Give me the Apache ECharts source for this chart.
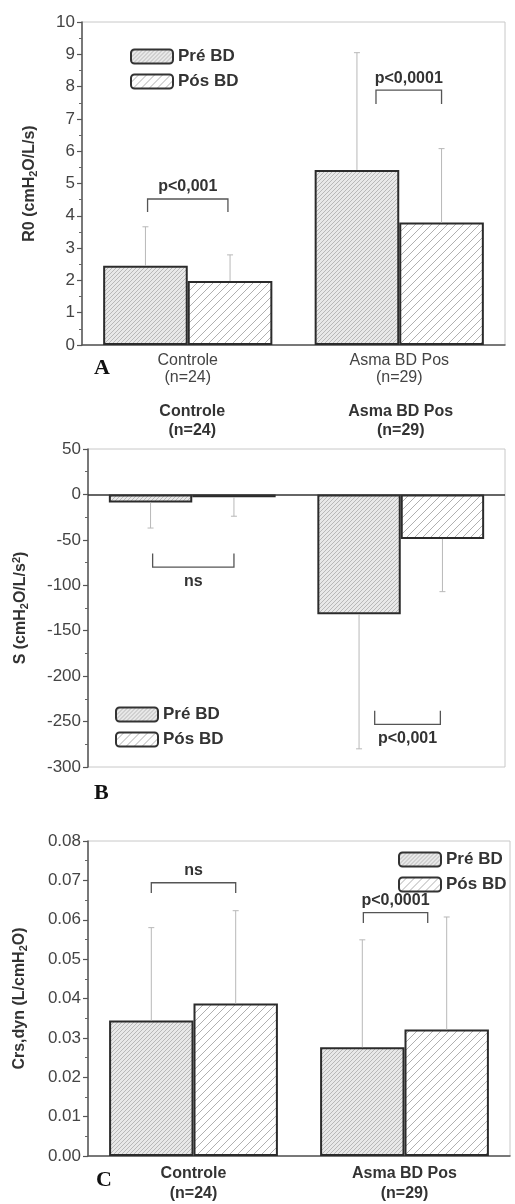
<!DOCTYPE html>
<html>
<head>
<meta charset="utf-8">
<script src="https://cdn.jsdelivr.net/npm/echarts@6/dist/echarts.min.js"></script>
<style>
html,body{margin:0;padding:0;background:#fff;}
#c{width:515px;height:1204px;}
</style>
</head>
<body>
<div id="c"></div>
<script>
// ---- data ----
const categories = ['Controle', 'Asma BD Pos'];
const groupN = [24, 29];
const seriesNames = ['Pré BD', 'Pós BD'];

const r0Pre = [2.45, 5.42];
const r0PreSD = [1.21, 3.63];
const r0Pos = [1.98, 3.79];
const r0PosSD = [0.81, 2.29];

const sPre = [-9, -132];
const sPreSD = [28, 148];
const sPos = [-3, -49];
const sPosSD = [21, 58];

const crsPre = [0.0344, 0.0276];
const crsPreSD = [0.0236, 0.0273];
const crsPos = [0.0387, 0.0321];
const crsPosSD = [0.0236, 0.0286];

// axis ranges [min, max, interval]
const r0Axis = [0, 10, 1];
const sAxis = [-300, 50, 50];
const crsAxis = [0, 0.08, 0.01];

// significance brackets (category index, bracket level, end level, x offsets in band units, text)
const bracketsA = [
  {cat: 0, y: 4.52, yEnd: 4.12, x0: -0.19, x1: 0.19, text: 'p<0,001', below: false},
  {cat: 1, y: 7.89, yEnd: 7.46, x0: -0.11, x1: 0.20, text: 'p<0,0001', below: false}
];
const bracketsB = [
  {cat: 0, y: -80, yEnd: -65, x0: -0.19, x1: 0.20, text: 'ns', below: true},
  {cat: 1, y: -253, yEnd: -238, x0: -0.125, x1: 0.19, text: 'p<0,001', below: true}
];
const bracketsC = [
  {cat: 0, y: 0.0694, yEnd: 0.0668, x0: -0.20, x1: 0.20, text: 'ns', below: false},
  {cat: 1, y: 0.0618, yEnd: 0.0592, x0: -0.195, x1: 0.11, text: 'p<0,0001', below: false}
];

// ---- patterns ----
function hatch(bg, fg, size, lw) {
  const c = document.createElement('canvas');
  c.width = size; c.height = size;
  const g = c.getContext('2d');
  g.fillStyle = bg; g.fillRect(0, 0, size, size);
  g.strokeStyle = fg; g.lineWidth = lw;
  g.beginPath();
  for (let k = -1; k <= 1; k++) {
    g.moveTo(k * size, size);
    g.lineTo(k * size + size, 0);
  }
  g.stroke();
  return {image: c, repeat: 'repeat'};
}
const prePattern = hatch('#e8e8e8', '#b8b8b8', 4, 1);
const posPattern = hatch('#ffffff', '#b0b0b0', 8, 1);

const FONT = 'Liberation Sans';
const BAR_BORDER = '#2b2b2b';

function errData(pre, preSD, pos, posSD) {
  const out = [];
  for (let i = 0; i < categories.length; i++) {
    out.push([i, pre[i], preSD[i], -1]);
    out.push([i, pos[i], posSD[i], 1]);
  }
  return out;
}
function errRender(params, api) {
  const cat = api.value(0), v = api.value(1), sd = api.value(2), side = api.value(3);
  const band = api.size([1, 0])[0];
  const p0 = api.coord([cat, v]);
  const p1 = api.coord([cat, v + (v < 0 ? -sd : sd)]);
  const x = p0[0] + side * band * 0.2;
  const st = {stroke: '#b8b8b8', lineWidth: 1};
  return {type: 'group', children: [
    {type: 'line', shape: {x1: x, y1: p0[1], x2: x, y2: p1[1]}, style: st},
    {type: 'line', shape: {x1: x - 3, y1: p1[1], x2: x + 3, y2: p1[1]}, style: st}
  ]};
}
function bracketRender(list) {
  return function (params, api) {
    const b = list[params.dataIndex];
    const band = api.size([1, 0])[0];
    const c = api.coord([b.cat, b.y]);
    const e = api.coord([b.cat, b.yEnd]);
    const x0 = c[0] + b.x0 * band, x1 = c[0] + b.x1 * band;
    return {type: 'group', children: [
      {type: 'polyline', shape: {points: [[x0, e[1]], [x0, c[1]], [x1, c[1]], [x1, e[1]]]},
        style: {stroke: '#555', lineWidth: 1.3, fill: null}},
      {type: 'text', style: {text: b.text, x: (x0 + x1) / 2, y: b.below ? c[1] + 6 : c[1] - 4,
        align: 'center', verticalAlign: b.below ? 'top' : 'bottom',
        font: 'bold 16px ' + FONT, fill: '#333'}}
    ]};
  };
}

function yAxisCfg(grid, range, name, gap, fmt) {
  return {
    gridIndex: grid, type: 'value', min: range[0], max: range[1], interval: range[2],
    axisLine: {show: true, lineStyle: {color: '#555', width: 1.5}},
    axisTick: {show: true, length: 5, lineStyle: {color: '#555', width: 1.2}},
    minorTick: {show: true, splitNumber: 2, length: 3, lineStyle: {color: '#666', width: 1}},
    splitLine: {show: false},
    axisLabel: {fontSize: 17, color: '#444', fontFamily: FONT, margin: 7, formatter: fmt},
    name: name, nameLocation: 'middle', nameRotate: 90, nameGap: gap,
    nameTextStyle: {
      fontFamily: FONT, fontSize: 16, fontWeight: 'bold', color: '#333',
      rich: {
        b: {fontFamily: FONT, fontSize: 16, fontWeight: 'bold', color: '#333', lineHeight: 19},
        sub: {fontFamily: FONT, fontSize: 11, fontWeight: 'bold', color: '#333', verticalAlign: 'bottom', lineHeight: 19},
        sup: {fontFamily: FONT, fontSize: 11, fontWeight: 'bold', color: '#333', verticalAlign: 'top', lineHeight: 19}
      }
    }
  };
}
function catLabel(v, i) {
  const idx = categories.indexOf(v);
  return v + '\n(n=' + groupN[idx] + ')';
}

function barPair(xi, yi, pre, pos, extra) {
  const a = {
    name: seriesNames[0], type: 'bar', xAxisIndex: xi, yAxisIndex: yi, data: pre,
    barWidth: '40%', barGap: '0%', z: 2,
    itemStyle: {color: prePattern, borderColor: BAR_BORDER, borderWidth: 2}
  };
  const b = {
    name: seriesNames[1], type: 'bar', xAxisIndex: xi, yAxisIndex: yi, data: pos,
    barWidth: '40%', barGap: '0%', z: 2,
    itemStyle: {color: posPattern, borderColor: BAR_BORDER, borderWidth: 2}
  };
  if (extra) Object.assign(a, extra);
  return [a, b];
}

const gridBase = {show: true, borderColor: '#c8c8c8', borderWidth: 1, containLabel: false};

const legendBase = {
  orient: 'vertical', itemWidth: 42, itemHeight: 14, itemGap: 8, icon: 'roundRect',
  data: seriesNames, selectedMode: false, padding: 0,
  textStyle: {fontFamily: FONT, fontSize: 17, fontWeight: 'bold', color: '#333'},
  itemStyle: {borderColor: '#333', borderWidth: 2}
};

const option = {
  animation: false,
  backgroundColor: '#fff',
  textStyle: {fontFamily: FONT},
  grid: [
    Object.assign({left: 82, top: 22, width: 423, height: 323}, gridBase),
    Object.assign({left: 88, top: 449, width: 417, height: 318}, gridBase),
    Object.assign({left: 88, top: 841, width: 422, height: 316}, gridBase)
  ],
  legend: [
    Object.assign({left: 130, top: 48}, legendBase),
    Object.assign({left: 115, top: 706}, legendBase),
    Object.assign({left: 398, top: 851}, legendBase)
  ],
  xAxis: [
    {gridIndex: 0, type: 'category', data: categories,
      axisLine: {lineStyle: {color: '#555', width: 1.5}},
      axisTick: {length: 4, lineStyle: {color: '#555'}},
      axisLabel: {formatter: catLabel, fontSize: 16, color: '#444', margin: 7, lineHeight: 17, fontFamily: FONT}},
    {gridIndex: 1, type: 'category', data: categories, position: 'top',
      axisLine: {show: false, onZero: false}, axisTick: {show: false},
      axisLabel: {formatter: catLabel, fontSize: 16, fontWeight: 'bold', color: '#333', margin: 9, lineHeight: 19, fontFamily: FONT}},
    {gridIndex: 2, type: 'category', data: categories,
      axisLine: {lineStyle: {color: '#555', width: 1.5}},
      axisTick: {length: 4, lineStyle: {color: '#555'}},
      axisLabel: {formatter: catLabel, fontSize: 16, fontWeight: 'bold', color: '#333', margin: 8, lineHeight: 20, fontFamily: FONT}}
  ],
  yAxis: [
    yAxisCfg(0, r0Axis, '{b|R0 (cmH}{sub|2}{b|O/L/s)}', 43),
    yAxisCfg(1, sAxis, '{b|S (cmH}{sub|2}{b|O/L/s}{sup|2}{b|)}', 58),
    yAxisCfg(2, crsAxis, '{b|Crs,dyn (L/cmH}{sub|2}{b|O)}', 59, function (v) { return v.toFixed(2); })
  ],
  graphic: [
    {type: 'text', left: 94, top: 357, style: {text: 'A', font: 'bold 22px "Liberation Serif"', fill: '#111'}},
    {type: 'text', left: 94, top: 782, style: {text: 'B', font: 'bold 22px "Liberation Serif"', fill: '#111'}},
    {type: 'text', left: 96, top: 1169, style: {text: 'C', font: 'bold 22px "Liberation Serif"', fill: '#111'}}
  ],
  series: [].concat(
    barPair(0, 0, r0Pre, r0Pos),
    [{type: 'custom', xAxisIndex: 0, yAxisIndex: 0, z: 3, data: errData(r0Pre, r0PreSD, r0Pos, r0PosSD), renderItem: errRender},
     {type: 'custom', xAxisIndex: 0, yAxisIndex: 0, z: 4, data: bracketsA.map(b => [b.cat, b.y]), renderItem: bracketRender(bracketsA)}],
    barPair(1, 1, sPre, sPos, {markLine: {silent: true, symbol: 'none', label: {show: false},
      lineStyle: {color: '#333', width: 1.5, type: 'solid'}, data: [{yAxis: 0}]}}),
    [{type: 'custom', xAxisIndex: 1, yAxisIndex: 1, z: 3, data: errData(sPre, sPreSD, sPos, sPosSD), renderItem: errRender},
     {type: 'custom', xAxisIndex: 1, yAxisIndex: 1, z: 4, data: bracketsB.map(b => [b.cat, b.y]), renderItem: bracketRender(bracketsB)}],
    barPair(2, 2, crsPre, crsPos),
    [{type: 'custom', xAxisIndex: 2, yAxisIndex: 2, z: 3, data: errData(crsPre, crsPreSD, crsPos, crsPosSD), renderItem: errRender},
     {type: 'custom', xAxisIndex: 2, yAxisIndex: 2, z: 4, data: bracketsC.map(b => [b.cat, b.y]), renderItem: bracketRender(bracketsC)}]
  )
};

const chart = echarts.init(document.getElementById('c'), null, {renderer: 'canvas'});
chart.setOption(option);
</script>
</body>
</html>
